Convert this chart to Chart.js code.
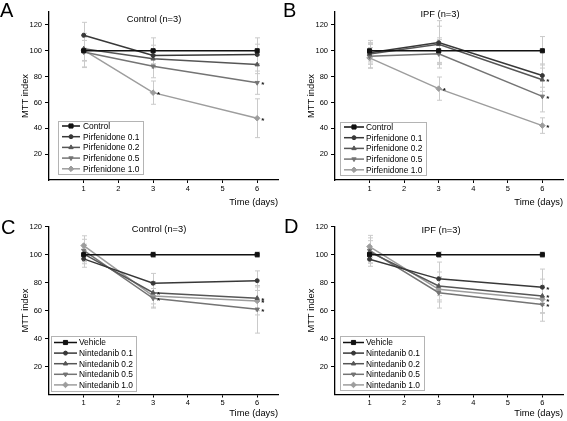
<!DOCTYPE html>
<html>
<head>
<title>MTT index</title>
<script src="https://cdn.jsdelivr.net/npm/chart.js"></script>
<style>
    body { margin: 0; background: #fff; font-family: "Liberation Sans", Arial, sans-serif; }
    #fig { position: relative; width: 567px; height: 421px; overflow: hidden; }
    #fig canvas { position: absolute; }
    .letter { position: absolute; font-size: 20px; line-height: 20px; color: #000; }
</style>
</head>
<body>
<div id="fig">
    <canvas id="cA" width="283" height="210" style="left:0;top:0"></canvas>
    <canvas id="cB" width="281" height="210" style="left:286px;top:0"></canvas>
    <canvas id="cC" width="283" height="207" style="left:0;top:214px"></canvas>
    <canvas id="cD" width="281" height="207" style="left:286px;top:214px"></canvas>
    <div class="letter" style="left:0;top:0">A</div>
    <div class="letter" style="left:283px;top:0">B</div>
    <div class="letter" style="left:1px;top:217px">C</div>
    <div class="letter" style="left:284px;top:216px">D</div>
</div>
<script>
    // days measured, axis ticks
    var days = [1, 3, 6];
    var xTicks = [1, 2, 3, 4, 5, 6];
    var yTicks = [20, 40, 60, 80, 100, 120];

    var pirfLabels = ['Control', 'Pirfenidone 0.1', 'Pirfenidone 0.2', 'Pirfenidone 0.5', 'Pirfenidone 1.0'];
    var nintLabels = ['Vehicle', 'Nintedanib 0.1', 'Nintedanib 0.2', 'Nintedanib 0.5', 'Nintedanib 1.0'];

    // A: control fibroblasts + pirfenidone (mean, sd, significant?)
    var aMeans = [[100, 100, 100], [112, 96.3, 97.1], [101.5, 93.8, 89.3], [99, 88.1, 75.3], [100.5, 67.6, 47.8]];
    var aErrors = [[8, 10, 10], [10, 8, 8], [9, 7, 7], [12, 9, 9], [13, 9, 15]];
    var aStars = [[0, 0, 0], [0, 0, 0], [0, 0, 0], [0, 0, 1], [0, 1, 1]];

    // B: IPF fibroblasts + pirfenidone
    var bMeans = [[100, 100, 100], [98.5, 106.3, 80.8], [97.5, 105, 77.6], [95.8, 97.6, 64.7], [94.5, 70.7, 42.1]];
    var bErrors = [[8, 10, 11], [8, 17, 9], [8, 14, 9], [9, 11, 12], [8, 9, 6]];
    var bStars = [[0, 0, 0], [0, 0, 0], [0, 0, 1], [0, 0, 1], [0, 1, 1]];

    // C: control fibroblasts + nintedanib
    var cMeans = [[100, 100, 100], [97, 79.6, 81.4], [100.5, 72.8, 68.9], [103, 68.8, 60.9], [106.5, 70.5, 66.9]];
    var cErrors = [[5, 2, 2], [6, 7, 7], [7, 8, 9], [8, 7, 17], [7, 8, 10]];
    var cStars = [[0, 0, 0], [0, 0, 0], [0, 1, 1], [0, 1, 1], [0, 0, 1]];

    // D: IPF fibroblasts + nintedanib
    var dMeans = [[100, 100, 100], [96.7, 82.7, 76.7], [102, 77.6, 70.5], [103, 72.8, 64.4], [105.8, 75.2, 68.1]];
    var dErrors = [[4, 2, 2], [5, 12, 13], [8, 10, 12], [9, 11, 12], [8, 9, 10]];
    var dStars = [[0, 0, 0], [0, 0, 1], [0, 0, 1], [0, 0, 1], [0, 0, 1]];

    var seriesColors = ['#111111', '#383838', '#565656', '#747474', '#9d9d9d'];
    var markerStyles = ['rect', 'circle', 'triangle', 'triangle', 'rectRot'];
    var markerRotations = [0, 0, 0, 180, 0];
    var markerRadii = [2.9, 2.0, 2.5, 2.5, 2.8];
    var FONT = '"Liberation Sans", Arial, sans-serif';

    function drawMarker(ctx, style, rot, r, x, y) {
        if (Chart.helpers && Chart.helpers.drawPoint) {
            Chart.helpers.drawPoint(ctx, { pointStyle: style, rotation: rot, radius: r, borderWidth: 1 }, x, y);
        } else {
            ctx.beginPath(); ctx.arc(x, y, r, 0, Math.PI * 2); ctx.fill();
        }
    }

    var errorBarPlugin = {
        id: 'errorBars',
        beforeDatasetsDraw: function (chart) {
            var ctx = chart.ctx, ys = chart.scales.y;
            ctx.save();
            ctx.strokeStyle = '#cacaca';
            ctx.lineWidth = 1;
            chart.data.datasets.forEach(function (ds, i) {
                var meta = chart.getDatasetMeta(i);
                ds.errors.forEach(function (e, j) {
                    if (!e) return;
                    var x = Math.round(meta.data[j].x) + 0.5;
                    var v = ds.data[j].y;
                    var y0 = ys.getPixelForValue(v - e), y1 = ys.getPixelForValue(v + e);
                    ctx.beginPath();
                    ctx.moveTo(x, y0); ctx.lineTo(x, y1);
                    ctx.moveTo(x - 2.5, y0); ctx.lineTo(x + 2.5, y0);
                    ctx.moveTo(x - 2.5, y1); ctx.lineTo(x + 2.5, y1);
                    ctx.stroke();
                });
            });
            ctx.restore();
        }
    };

    var starPlugin = {
        id: 'stars',
        afterDatasetsDraw: function (chart) {
            var ctx = chart.ctx;
            ctx.save();
            ctx.fillStyle = '#111';
            ctx.font = 'bold 8px ' + FONT;
            ctx.textAlign = 'left';
            ctx.textBaseline = 'alphabetic';
            chart.data.datasets.forEach(function (ds, i) {
                var meta = chart.getDatasetMeta(i);
                ds.stars.forEach(function (s, j) {
                    if (!s) return;
                    ctx.fillText('*', meta.data[j].x + 4, meta.data[j].y + 4.5);
                });
            });
            ctx.restore();
        }
    };

    var panelTextPlugin = {
        id: 'panelText',
        afterDraw: function (chart, args, opts) {
            var ctx = chart.ctx, area = chart.chartArea, lg = opts.legend;
            ctx.save();
            // inner title
            ctx.fillStyle = '#000';
            ctx.font = '9.3px ' + FONT;
            ctx.textAlign = 'center';
            ctx.textBaseline = 'middle';
            ctx.fillText(opts.title, area.left + opts.titleDX, area.top + opts.titleDY);
            // legend box inside the plot
            var bx = area.left + lg.dx, by = area.bottom - lg.dy - lg.h;
            ctx.fillStyle = '#fff';
            ctx.fillRect(bx, by, lg.w, lg.h);
            ctx.strokeStyle = '#b4b4b4';
            ctx.lineWidth = 1;
            ctx.strokeRect(Math.round(bx) + 0.5, Math.round(by) + 0.5, lg.w, lg.h);
            ctx.font = '8.4px ' + FONT;
            ctx.textAlign = 'left';
            chart.data.datasets.forEach(function (ds, i) {
                var y = by + lg.first + i * lg.row;
                ctx.strokeStyle = ds.borderColor;
                ctx.fillStyle = ds.borderColor;
                ctx.lineWidth = 1.5;
                ctx.beginPath();
                ctx.moveTo(bx + lg.l0, y); ctx.lineTo(bx + lg.l1, y);
                ctx.stroke();
                ctx.lineWidth = 1;
                drawMarker(ctx, ds.pointStyle, ds.pointRotation, ds.pointRadius, bx + (lg.l0 + lg.l1) / 2, y);
                ctx.fillStyle = '#000';
                ctx.fillText(ds.label, bx + lg.tx, y + 0.5);
            });
            ctx.restore();
        }
    };

    function makeChart(id, labels, means, errors, stars, yMax, look) {
        var datasets = labels.map(function (lab, i) {
            return {
                label: lab,
                data: days.map(function (d, j) { return { x: d, y: means[i][j] }; }),
                errors: errors[i],
                stars: stars[i],
                borderColor: seriesColors[i],
                backgroundColor: seriesColors[i],
                borderWidth: 1.5,
                pointStyle: markerStyles[i],
                pointRotation: markerRotations[i],
                pointRadius: markerRadii[i],
                pointHoverRadius: markerRadii[i],
                pointBorderWidth: 1,
                tension: 0
            };
        });
        var canvas = document.getElementById(id);
        return new Chart(canvas.getContext('2d'), {
            type: 'line',
            data: { datasets: datasets },
            plugins: [errorBarPlugin, starPlugin, panelTextPlugin],
            options: {
                responsive: false,
                animation: false,
                layout: { padding: { left: 0, top: look.top, right: canvas.width - look.right, bottom: 0 } },
                plugins: {
                    legend: { display: false },
                    tooltip: { enabled: false },
                    panelText: { title: look.title, titleDX: look.titleDX, titleDY: look.titleDY, legend: look.legend }
                },
                scales: {
                    x: {
                        type: 'linear', min: 0, max: 6.6,
                        afterBuildTicks: function (s) { s.ticks = xTicks.map(function (v) { return { value: v }; }); },
                        afterFit: function (s) { s.height = canvas.height - look.bottom; },
                        grid: { display: true, drawOnChartArea: false, drawTicks: true, tickLength: 3, color: '#000' },
                        border: { display: true, color: '#000', width: 1.3 },
                        ticks: { color: '#000', font: { family: FONT, size: 7.5 }, padding: 1, maxRotation: 0, autoSkip: false },
                        title: { display: true, text: 'Time (days)', align: 'end', color: '#000',
                                 font: { family: FONT, size: 9.3 }, padding: { top: 0, bottom: 2 } }
                    },
                    y: {
                        min: 0, max: yMax,
                        afterBuildTicks: function (s) { s.ticks = yTicks.map(function (v) { return { value: v }; }); },
                        afterFit: function (s) { s.width = 49; },
                        grid: { display: true, drawOnChartArea: false, drawTicks: true, tickLength: 4, color: '#000' },
                        border: { display: true, color: '#000', width: 1.3 },
                        ticks: { color: '#000', font: { family: FONT, size: 7.5 }, padding: 3 },
                        title: { display: true, text: 'MTT index', color: '#000',
                                 font: { family: FONT, size: 9.3 }, padding: { top: 20, bottom: 0 } }
                    }
                }
            }
        });
    }

    makeChart('cA', pirfLabels, aMeans, aErrors, aStars, 130, {
        top: 12, bottom: 180, right: 278, title: 'Control (n=3)', titleDX: 105, titleDY: 7,
        legend: { dx: 9, dy: 6, w: 85, h: 53, first: 5, row: 10.7, l0: 4, l1: 22, tx: 25 }
    });
    makeChart('cB', pirfLabels, bMeans, bErrors, bStars, 130, {
        top: 12, bottom: 180, right: 278, title: 'IPF (n=3)', titleDX: 105, titleDY: 2,
        legend: { dx: 5, dy: 5, w: 86, h: 53, first: 5, row: 10.7, l0: 4, l1: 24, tx: 26 }
    });
    makeChart('cC', nintLabels, cMeans, cErrors, cStars, 120, {
        top: 12.7, bottom: 180.5, right: 278, title: 'Control (n=3)', titleDX: 110, titleDY: 2.5,
        legend: { dx: 2, dy: 4, w: 85, h: 55, first: 7, row: 10.6, l0: 3, l1: 26, tx: 28 }
    });
    makeChart('cD', nintLabels, dMeans, dErrors, dStars, 120, {
        top: 12.7, bottom: 180.5, right: 278, title: 'IPF (n=3)', titleDX: 106, titleDY: 3.5,
        legend: { dx: 5, dy: 5, w: 84, h: 54, first: 7, row: 10.6, l0: 3, l1: 24, tx: 26 }
    });
</script>
</body>
</html>
